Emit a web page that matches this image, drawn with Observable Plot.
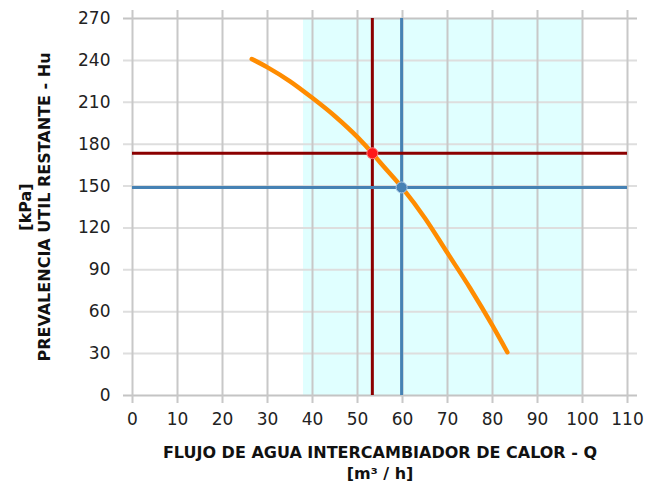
<!DOCTYPE html>
<html>
<head>
<meta charset="utf-8">
<script src="https://cdn.jsdelivr.net/npm/d3@7"></script>
<script src="https://cdn.jsdelivr.net/npm/@observablehq/plot@0.6"></script>
<style>
  html, body { margin: 0; padding: 0; background: #fff; }
  #chart svg { display: block; }
</style>
</head>
<body>
<div id="chart"></div>
<script>
// Pump curve (flow Q in m³/h, available head Hu in kPa)
const flowQ = [26.5, 30, 35, 40, 45, 50, 53.3, 55, 60, 65, 70, 75, 80, 83.3];
const headHu = [241, 235, 225, 213, 200, 185, 173.5, 167, 148.5, 127, 102, 77, 50, 31];

// Operating points
const pointNames = ["rojo", "azul"];
const pointQ = [53.3, 59.8];
const pointH = [173.5, 149];
const pointLine = ["#8b0000", "#4682b4"];
const pointFill = ["#ff1a1a", "#4682b4"];
const pointRing = ["#ff8080", "#a9c8e6"];

// Shaded working range
const rangeQ = [38, 100];

// Ticks
const xTicks = [0, 10, 20, 30, 40, 50, 60, 70, 80, 90, 100, 110];
const yTicks = [0, 30, 60, 90, 120, 150, 180, 210, 240, 270];

const xTitle = "FLUJO DE AGUA INTERCAMBIADOR DE CALOR - Q\n[m³ / h]";
const yTitle = "[kPa]\nPREVALENCIA UTIL RESTANTE - Hu";

const curve = flowQ.map((q, i) => ({q, h: headHu[i]}));
const points = pointNames.map((n, i) => ({n, q: pointQ[i], h: pointH[i], line: pointLine[i], fill: pointFill[i], ring: pointRing[i]}));

const chart = Plot.plot({
  width: 645,
  height: 486,
  marginLeft: 132,
  marginRight: 18,
  marginTop: 18,
  marginBottom: 91,
  style: {fontFamily: "'DejaVu Sans', Verdana, sans-serif", background: "#fff"},
  x: {domain: [0, 110], ticks: xTicks},
  y: {domain: [0, 270], ticks: yTicks},
  marks: [
    Plot.rect([rangeQ], {x1: d => d[0], x2: d => d[1], y1: 0, y2: 270, fill: "#e0ffff"}),
    Plot.gridY(yTicks.filter(t => t !== 0 && t !== 270), {stroke: "#dedede", strokeOpacity: 1, strokeWidth: 2, insetLeft: -9, insetRight: -10}),
    Plot.gridY([0, 270], {stroke: "#c4c4c4", strokeOpacity: 1, strokeWidth: 2, insetLeft: -9, insetRight: -10}),
    Plot.gridX(xTicks, {stroke: "#c8c8c8", strokeOpacity: 1, strokeWidth: 2, insetTop: -8, insetBottom: -8}),
    Plot.axisX(xTicks, {tickSize: 0, tickPadding: 17, fontSize: 17, fill: "#222", label: null}),
    Plot.axisY(yTicks, {tickSize: 0, tickPadding: 22, fontSize: 17, fill: "#222", label: null}),
    Plot.ruleX(points, {x: "q", y1: 0, y2: 270, stroke: "line", strokeWidth: 3}),
    Plot.ruleY(points, {y: "h", x1: 0, x2: 110, stroke: "line", strokeWidth: 3}),
    Plot.line(curve, {x: "q", y: "h", stroke: "#ff8c00", strokeWidth: 4.5, curve: "monotone-x"}),
    Plot.dot(points, {x: "q", y: "h", r: 5.5, fill: "fill", stroke: "ring", strokeWidth: 1}),
    Plot.text([xTitle], {frameAnchor: "bottom", lineAnchor: "top", dy: 48, fontSize: 16, fontWeight: "bold", lineHeight: 1.3, fill: "#111"}),
    Plot.text([yTitle], {frameAnchor: "left", rotate: -90, dx: -98, textAnchor: "middle", lineAnchor: "middle", fontSize: 16, fontWeight: "bold", lineHeight: 1.2, fill: "#111"})
  ]
});
document.getElementById("chart").appendChild(chart);
</script>
</body>
</html>
